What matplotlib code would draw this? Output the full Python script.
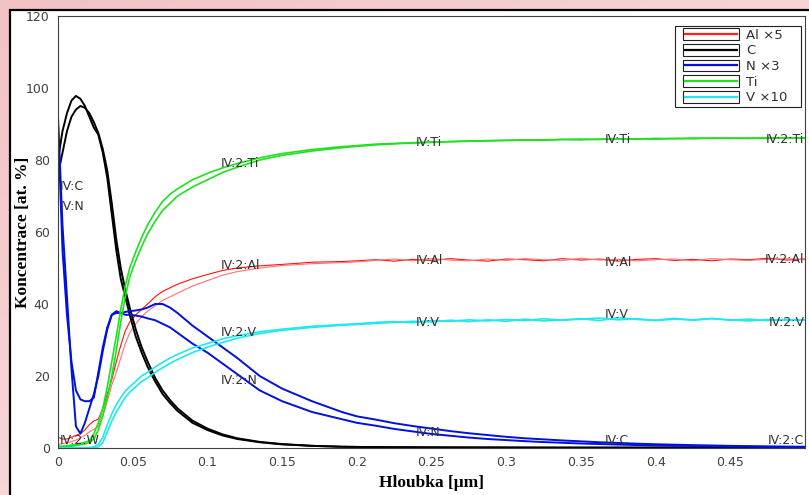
import numpy as np
import matplotlib.pyplot as plt
from matplotlib.patches import Rectangle
from matplotlib.lines import Line2D
from matplotlib.legend_handler import HandlerBase

# depth grid [um]
depth = [0, 0.003, 0.006, 0.009, 0.012, 0.015, 0.018, 0.021, 0.024, 0.027,
         0.030, 0.033, 0.036, 0.039, 0.042, 0.045, 0.048, 0.052, 0.056, 0.060,
         0.065, 0.070, 0.075, 0.080, 0.090, 0.100, 0.110, 0.120, 0.135, 0.150,
         0.170, 0.190,
         0.2, 0.2125, 0.225, 0.2375, 0.25, 0.2625, 0.275, 0.2875, 0.3, 0.3125,
         0.325, 0.3375, 0.35, 0.3625, 0.375, 0.3875, 0.4, 0.4125, 0.425, 0.4375,
         0.45, 0.4625, 0.475, 0.4875, 0.5]

# Al x5
al_1 = [3, 2.5, 2.5, 3, 3.5, 4, 5, 6.5, 7.5, 8, 11, 15, 19, 24, 28.5, 32.5, 35, 37, 38.5, 40,
        42, 43.5, 44.5, 45.5, 47, 48.2, 49.3, 50, 50.6, 51, 51.6, 51.8,
        52.0, 52.3, 51.9, 52.4, 52.1, 52.6, 52.2, 51.9, 52.5, 52.3, 52.0, 52.6, 52.2, 52.5,
        51.9, 52.4, 52.6, 52.1, 52.4, 52.0, 52.5, 52.3, 52.7, 52.2, 52.5]
al_2 = [1, 1.2, 1.5, 1.8, 2.2, 2.8, 3.5, 4.5, 5.2, 6, 9, 13, 17.5, 21, 25, 29, 32, 34.5, 36.5, 38,
        39.5, 41, 42, 43, 45, 46.5, 48, 49, 50, 50.7, 51.2, 51.5,
        51.7, 52.1, 52.5, 52.0, 52.6, 52.2, 52.0, 52.5, 52.1, 52.6, 52.3, 52.1, 52.7, 52.2,
        52.4, 52.0, 52.3, 52.5, 52.0, 52.6, 52.3, 52.1, 52.4, 52.6, 52.3]
# C
c_1 = [80, 88, 93, 96.5, 97.8, 97, 95, 92, 89, 87, 82, 75, 65, 55, 47, 42, 37, 31, 26.5, 22.5,
       18.5, 15, 12.5, 10.3, 7, 5, 3.5, 2.5, 1.6, 1.0, 0.6, 0.35,
       0.3, 0.25, 0.22, 0.2, 0.18, 0.16, 0.15, 0.14, 0.13, 0.12, 0.11, 0.1, 0.1, 0.1,
       0.1, 0.1, 0.1, 0.1, 0.1, 0.1, 0.1, 0.1, 0.1, 0.1, 0.1]
c_2 = [76, 82, 88, 92, 94, 95, 94.5, 93, 90.5, 87.5, 83, 77, 68, 58, 50, 44, 39, 33, 28, 24,
       19.5, 16, 13.3, 11, 7.6, 5.4, 3.8, 2.7, 1.7, 1.1, 0.6, 0.35,
       0.3, 0.25, 0.22, 0.2, 0.18, 0.16, 0.15, 0.14, 0.13, 0.12, 0.11, 0.1, 0.1, 0.1,
       0.1, 0.1, 0.1, 0.1, 0.1, 0.1, 0.1, 0.1, 0.1, 0.1, 0.1]
# N x3
n_1 = [92, 62, 42, 22, 6, 4, 7, 11, 15, 20, 27, 33, 37, 38, 37.5, 37, 37, 36.8, 36.5, 36,
       35.5, 34.5, 33.5, 32, 29, 26.5, 23.5, 20.5, 16, 13, 10, 8,
       7.0, 6.2, 5.3, 4.6, 3.9, 3.4, 2.9, 2.5, 2.2, 1.9, 1.65, 1.45, 1.25, 1.1,
       0.95, 0.82, 0.7, 0.62, 0.55, 0.48, 0.42, 0.37, 0.32, 0.28, 0.25]
n_2 = [90, 55, 37, 24, 16, 13.5, 13, 13, 14, 21, 28, 33.5, 37, 37.5, 37.5, 37.8, 38, 38.2, 38.5, 39,
       40, 40, 39, 37.5, 34, 31, 28, 25, 20, 16.5, 13, 10,
       8.8, 7.9, 6.9, 6.1, 5.4, 4.7, 4.1, 3.6, 3.1, 2.7, 2.4, 2.1, 1.85, 1.6,
       1.4, 1.2, 1.05, 0.92, 0.8, 0.7, 0.6, 0.52, 0.45, 0.4, 0.35]
# Ti
ti_1 = [0.5, 0.5, 0.6, 0.8, 1, 1.3, 1.6, 2, 4, 7, 11, 17, 24, 31, 38.5, 45, 50, 54.5, 58.5, 62,
        65.5, 68.5, 70.5, 72, 74.5, 76.3, 77.8, 79, 80.6, 81.8, 82.9, 83.7,
        84.0, 84.4, 84.6, 84.8, 85.0, 85.1, 85.3, 85.3, 85.5, 85.5, 85.6, 85.7, 85.6, 85.8,
        85.8, 85.9, 85.8, 86.0, 85.9, 86.1, 86.0, 86.1, 86.0, 86.2, 86.1]
ti_2 = [0.3, 0.3, 0.4, 0.5, 0.7, 0.9, 1.1, 1.5, 2.5, 5, 9, 14, 20, 27, 35, 42, 47.5, 52, 56, 59.5,
        63, 66, 68, 70, 72.5, 74.5, 76.5, 78, 80, 81.3, 82.5, 83.4,
        83.8, 84.2, 84.5, 84.7, 84.9, 85.1, 85.2, 85.4, 85.4, 85.6, 85.5, 85.7, 85.8, 85.7,
        85.9, 85.8, 86.0, 85.9, 86.1, 86.0, 86.1, 86.0, 86.2, 86.1, 86.1]
# V x10
v_1 = [0, 0, 0, 0, 0, 0, 0, 0.1, 0.3, 1, 3, 6.5, 9.5, 12, 14, 15.8, 17, 18.5, 20, 21,
       22.5, 23.8, 25, 26, 27.8, 29, 30.3, 31.2, 32.3, 33, 33.8, 34.3,
       34.5, 34.9, 35.1, 34.8, 35.4, 35.2, 35.6, 35.3, 35.7, 35.4, 35.9, 35.5, 35.8, 36.1,
       35.6, 35.9, 35.4, 35.8, 35.6, 36.0, 35.5, 35.8, 35.4, 35.7, 35.5]
v_2 = [0, 0, 0, 0, 0, 0, 0, 0, 0, 0.3, 1.5, 4.5, 7.5, 10, 12, 14, 15.5, 17, 18.5, 19.5,
       21, 22.3, 23.5, 24.6, 26.5, 28, 29.3, 30.5, 31.8, 32.7, 33.5, 34.1,
       34.3, 34.6, 34.9, 35.2, 35.0, 35.5, 35.1, 35.6, 35.2, 35.8, 35.3, 35.6, 35.9, 35.4,
       36.2, 35.7, 35.5, 36.0, 35.5, 35.9, 35.6, 35.3, 35.7, 35.5, 35.6]

legend_labels = ['Al \u00d75', 'C', 'N \u00d73', 'Ti', 'V \u00d710']
legend_colors = ['#ff2020', '#000000', '#0010e0', '#20e020', '#20e8f0']

# curve labels (text, depth, concentration, alignment)
lab_text = ['IV:C', 'IV:N', 'IV:2:W',
            'IV:2:Ti', 'IV:Ti', 'IV:Ti', 'IV:2:Ti',
            'IV:2:Al', 'IV:Al', 'IV:Al', 'IV:2:Al',
            'IV:2:V', 'IV:V', 'IV:V', 'IV:2:V',
            'IV:2:N', 'IV:N', 'IV:C', 'IV:2:C']
lab_x = [0.0012, 0.0012, 0.0012,
         0.109, 0.2396, 0.366, 0.4995,
         0.109, 0.2396, 0.366, 0.4995,
         0.109, 0.2396, 0.366, 0.4995,
         0.109, 0.2396, 0.366, 0.4995]
lab_y = [72.7, 67, 2.2,
         79, 85, 85.8, 85.8,
         50.7, 52, 51.5, 52.4,
         32, 34.8, 37, 35,
         18.7, 4.2, 2.2, 2.2]
lab_ha = ['left'] * 3 + ['left', 'left', 'left', 'right'] * 4


class BoxLineHandler(HandlerBase):
    # white box with a coloured line through it
    def create_artists(self, legend, orig_handle, xdescent, ydescent, width, height, fontsize, trans):
        off = 4
        bh = 8.5
        y0 = -ydescent + (height - bh) / 2
        box = Rectangle((-xdescent + off, y0), width - off, bh, facecolor='white',
                        edgecolor='#202020', linewidth=0.8, transform=trans)
        ln = Line2D([-xdescent + off + 1, -xdescent + width - 1], [y0 + bh / 2] * 2,
                    color=orig_handle.get_color(), linewidth=1.6, transform=trans)
        return [box, ln]


fig = plt.figure(figsize=(8.09, 4.95), dpi=100)

# pink gradient background
bg = fig.add_axes([0, 0, 1, 1], zorder=-10)
gx = np.linspace(0, 1, 200)
gy = np.linspace(0, 1, 120)
GX, GY = np.meshgrid(gx, gy)
c0 = np.array([242, 194, 197]) / 255.0
c1 = np.array([251, 228, 228]) / 255.0
t = np.clip(0.55 * GX + 0.6 * GY, 0, 1)[..., None]
bg.imshow(c0 * (1 - t) + c1 * t, aspect='auto', extent=[0, 1, 0, 1], origin='upper')
bg.set_axis_off()

# white panel with black frame
fig.patches.append(Rectangle((10 / 809, -0.05), 1.0, 1 - 10 / 495 + 0.05, transform=fig.transFigure,
                             facecolor='white', edgecolor='black', linewidth=1.6, zorder=-5))

ax = fig.add_axes([58 / 809, 1 - 448 / 495, (805 - 58) / 809, (448 - 16) / 495])
ax.set_facecolor('white')

ax.plot(depth, al_1, color='#ff1010', lw=0.8)
ax.plot(depth, al_2, color='#ff7070', lw=0.8)
ax.plot(depth, c_1, color='black', lw=1.4)
ax.plot(depth, c_2, color='black', lw=1.4)
ax.plot(depth, n_1, color='#0010e0', lw=1.4)
ax.plot(depth, n_2, color='#0010e0', lw=1.4)
ax.plot(depth, ti_1, color='#20e020', lw=1.2)
ax.plot(depth, ti_2, color='#20e020', lw=1.2)
ax.plot(depth, v_1, color='#20e8f0', lw=1.2)
ax.plot(depth, v_2, color='#20e8f0', lw=1.2)

for txt, x, y, ha in zip(lab_text, lab_x, lab_y, lab_ha):
    ax.text(x, y, txt, ha=ha, va='center', fontsize=9, color='#303030')

handles = [Line2D([], [], color=c) for c in legend_colors]
leg = ax.legend(handles, legend_labels, loc='upper left', mode='expand',
                bbox_to_anchor=(0.826, 0.5, 0.1686, 0.477), fontsize=9.5,
                handler_map={Line2D: BoxLineHandler()}, handlelength=4.6, handleheight=0.7,
                labelspacing=0.2, handletextpad=0.55, borderpad=0.22, fancybox=False,
                framealpha=1, borderaxespad=0)
leg.get_frame().set_edgecolor('#202020')
leg.get_frame().set_linewidth(0.8)
for tx in leg.get_texts():
    tx.set_color('#303030')

ax.set_xlim(0, 0.5)
ax.set_ylim(0, 120)
ax.set_xticks([0, 0.05, 0.1, 0.15, 0.2, 0.25, 0.3, 0.35, 0.4, 0.45])
ax.set_xticklabels(['0', '0.05', '0.1', '0.15', '0.2', '0.25', '0.3', '0.35', '0.4', '0.45'])
ax.set_yticks([0, 20, 40, 60, 80, 100, 120])
ax.tick_params(length=0, labelsize=9, labelcolor='#404040', pad=6)
for s in ax.spines.values():
    s.set_color('#404040')
    s.set_linewidth(0.8)

ax.set_xlabel('Hloubka [\u03bcm]', family='Liberation Serif', fontweight='bold', fontsize=12.5, labelpad=4)
ax.set_ylabel('Koncentrace [at. %]', family='Liberation Serif', fontweight='bold', fontsize=12.5)
ax.yaxis.set_label_coords(-0.036, 0.5)

fig.savefig('out.png', dpi=100)
